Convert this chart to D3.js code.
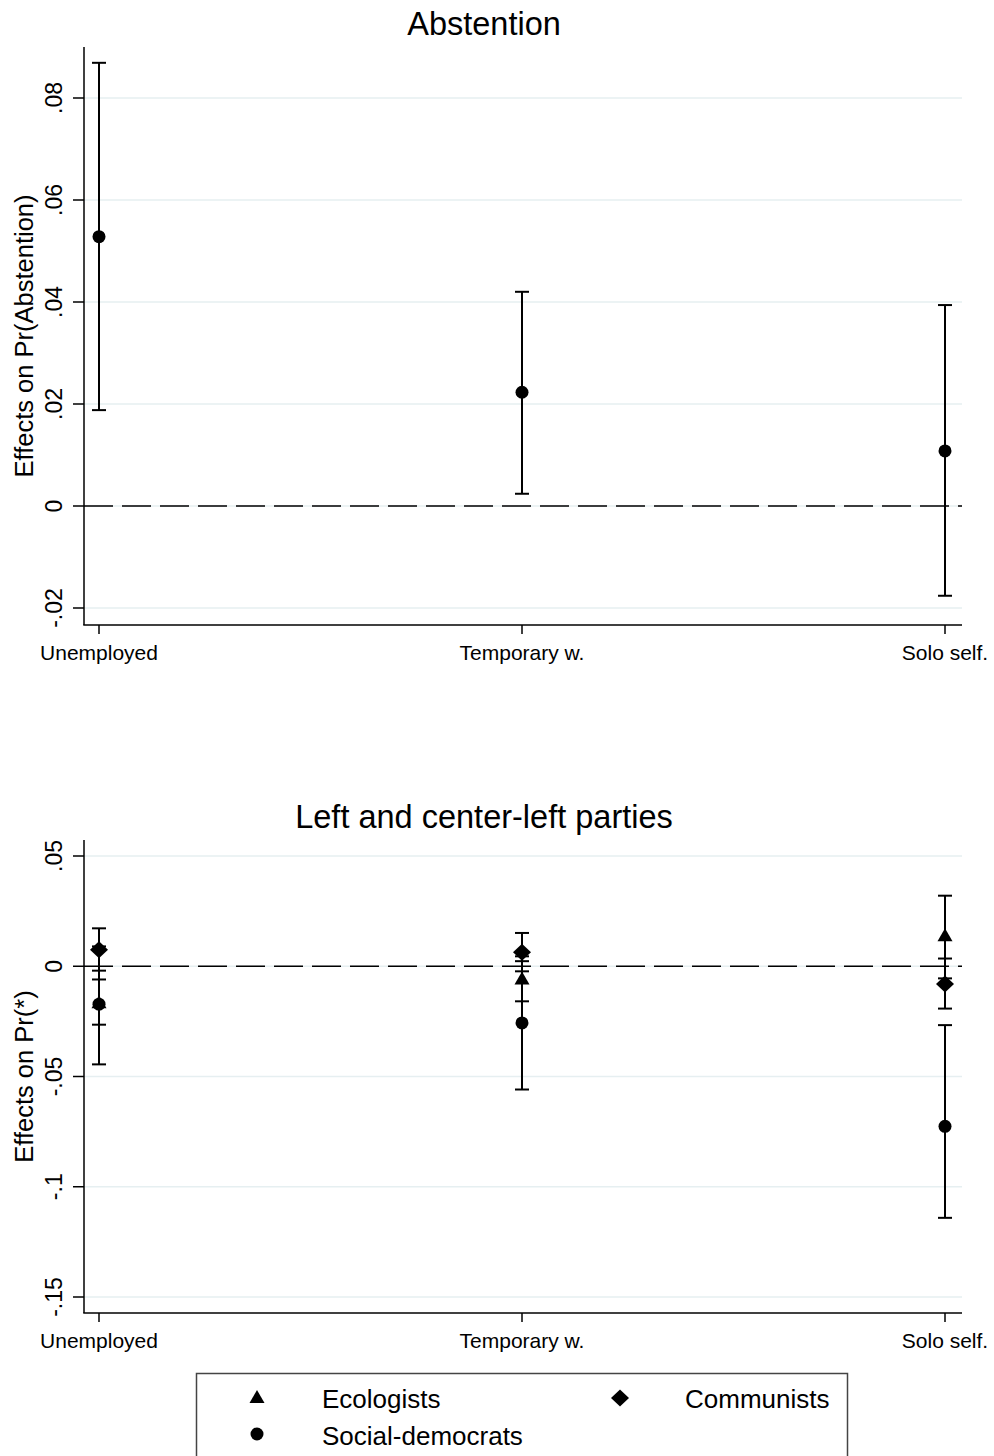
<!DOCTYPE html>
<html>
<head>
<meta charset="utf-8">
<script src="https://cdn.jsdelivr.net/npm/d3@7"></script>
<style>
  body { margin: 0; background: #fff; }
  svg { display: block; font-family: "Liberation Sans", Arial, sans-serif; }
</style>
</head>
<body>
<svg width="994" height="1456"></svg>
<script>
// категории по оси X
const categories = ["Unemployed", "Temporary w.", "Solo self."];

// верхняя панель: эффекты на вероятность неучастия
const abstTicks = [-0.02, 0, 0.02, 0.04, 0.06, 0.08];
const abstEst = [0.0528, 0.0223, 0.0108];
const abstLow = [0.0188, 0.0024, -0.0176];
const abstHigh = [0.0869, 0.0420, 0.0394];

// нижняя панель: левые партии
const leftTicks = [-0.15, -0.1, -0.05, 0, 0.05];
const seriesNames = ["Ecologists", "Communists", "Social-democrats"];
const seriesSymbols = ["triangle", "diamond", "circle"];
const ecoEst = [-0.0168, -0.0060, 0.0136];
const ecoLow = [-0.0265, -0.0159, -0.0055];
const ecoHigh = [-0.0060, 0.0023, 0.0320];
const comEst = [0.0075, 0.0063, -0.0080];
const comLow = [-0.0020, -0.0023, -0.0192];
const comHigh = [0.0172, 0.0151, 0.0035];
const sdEst = [-0.0172, -0.0257, -0.0726];
const sdLow = [-0.0445, -0.0559, -0.1141];
const sdHigh = [0.0090, 0.0045, -0.0267];

const svg = d3.select("svg");
const x = d3.scalePoint().domain(categories).range([99, 945]);

// формат как в Stata: .08, -.02, 0
const fmt = d => String(d).replace(/^(-?)0\./, "$1.");

function marker(g, type, cx, cy) {
    if (type === "circle") {
        g.append("circle").attr("cx", cx).attr("cy", cy).attr("r", 6.5).attr("fill", "#000");
    } else if (type === "triangle") {
        g.append("path").attr("d", `M${cx},${cy - 8} L${cx + 7.5},${cy + 5} L${cx - 7.5},${cy + 5} Z`).attr("fill", "#000");
    } else {
        g.append("path").attr("d", `M${cx},${cy - 8.5} L${cx + 9},${cy} L${cx},${cy + 8.5} L${cx - 9},${cy} Z`).attr("fill", "#000");
    }
}

function panel(opt) {
    const g = svg.append("g");
    const y = d3.scaleLinear().domain(opt.domain).range(opt.range);

    // сетка
    g.selectAll(".grid").data(opt.ticks).join("line")
        .attr("x1", 84).attr("x2", 962)
        .attr("y1", d => y(d)).attr("y2", d => y(d))
        .attr("stroke", "#e6eff1").attr("stroke-width", 1.5);

    // пунктирная линия нуля
    g.append("line")
        .attr("x1", 84).attr("x2", 962)
        .attr("y1", y(0)).attr("y2", y(0))
        .attr("stroke", "#000").attr("stroke-width", 1.6)
        .attr("stroke-dasharray", "29,9");

    // оси
    g.append("line").attr("x1", 84).attr("x2", 84).attr("y1", opt.top).attr("y2", opt.bottom)
        .attr("stroke", "#000").attr("stroke-width", 1.5);
    g.append("line").attr("x1", 83.25).attr("x2", 962).attr("y1", opt.bottom).attr("y2", opt.bottom)
        .attr("stroke", "#000").attr("stroke-width", 1.5);

    g.selectAll(".yt").data(opt.ticks).join("line")
        .attr("x1", 73).attr("x2", 84)
        .attr("y1", d => y(d)).attr("y2", d => y(d))
        .attr("stroke", "#000").attr("stroke-width", 1.5);
    g.selectAll(".yl").data(opt.ticks).join("text")
        .attr("transform", d => `translate(62,${y(d)}) rotate(-90)`)
        .attr("text-anchor", "middle")
        .attr("font-size", 23)
        .text(fmt);

    g.selectAll(".xt").data(categories).join("line")
        .attr("x1", d => x(d)).attr("x2", d => x(d))
        .attr("y1", opt.bottom).attr("y2", opt.bottom + 9)
        .attr("stroke", "#000").attr("stroke-width", 1.5);
    g.selectAll(".xl").data(categories).join("text")
        .attr("x", d => x(d)).attr("y", opt.bottom + 35)
        .attr("text-anchor", "middle")
        .attr("font-size", 21)
        .text(d => d);

    g.append("text")
        .attr("transform", `translate(33,${(opt.top + opt.bottom) / 2}) rotate(-90)`)
        .attr("text-anchor", "middle")
        .attr("font-size", 25.5)
        .text(opt.ylabel);

    g.append("text")
        .attr("x", 484).attr("y", opt.titleY)
        .attr("text-anchor", "middle")
        .attr("font-size", 32.5)
        .text(opt.title);

    // ошибки и точки
    opt.series.forEach(s => {
        categories.forEach((c, i) => {
            const cx = x(c);
            g.append("line").attr("x1", cx).attr("x2", cx)
                .attr("y1", y(s.low[i])).attr("y2", y(s.high[i]))
                .attr("stroke", "#000").attr("stroke-width", 2);
            [s.low[i], s.high[i]].forEach(v => {
                g.append("line").attr("x1", cx - 7).attr("x2", cx + 7)
                    .attr("y1", y(v)).attr("y2", y(v))
                    .attr("stroke", "#000").attr("stroke-width", 2);
            });
        });
    });
    opt.series.forEach(s => {
        categories.forEach((c, i) => marker(g, s.symbol, x(c), y(s.est[i])));
    });
}

panel({
    title: "Abstention", titleY: 35,
    ylabel: "Effects on Pr(Abstention)",
    ticks: abstTicks, domain: [-0.02, 0.08], range: [608, 98],
    top: 47, bottom: 625,
    series: [{ symbol: "circle", est: abstEst, low: abstLow, high: abstHigh }]
});

panel({
    title: "Left and center-left parties", titleY: 828,
    ylabel: "Effects on Pr(*)",
    ticks: leftTicks, domain: [-0.15, 0.05], range: [1297, 856],
    top: 840, bottom: 1313,
    series: [
        { symbol: "circle", est: sdEst, low: sdLow, high: sdHigh },
        { symbol: "triangle", est: ecoEst, low: ecoLow, high: ecoHigh },
        { symbol: "diamond", est: comEst, low: comLow, high: comHigh }
    ]
});

// легенда
const legend = svg.append("g");
legend.append("rect").attr("x", 196.5).attr("y", 1373.5).attr("width", 651).attr("height", 120)
    .attr("fill", "none").attr("stroke", "#444").attr("stroke-width", 1.5);
const legPos = [[257, 1398, 322, 1408], [620, 1398, 685, 1408], [257, 1434, 322, 1445]];
seriesNames.forEach((n, i) => {
    const p = legPos[i];
    marker(legend, seriesSymbols[i], p[0], p[1]);
    legend.append("text").attr("x", p[2]).attr("y", p[3]).attr("font-size", 26).text(n);
});
</script>
</body>
</html>
